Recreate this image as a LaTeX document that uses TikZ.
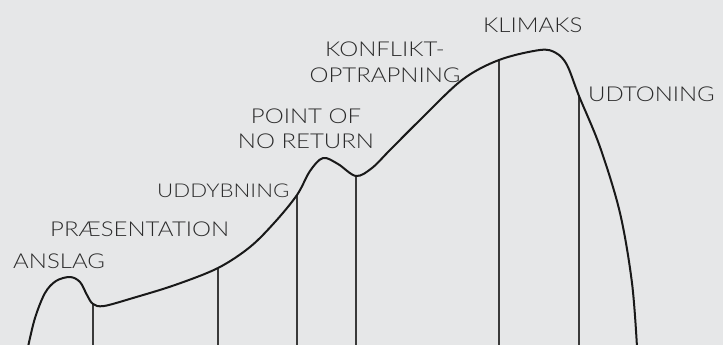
\documentclass[tikz,border=0pt]{standalone}
\usepackage{fontspec}
\IfFontExistsTF{Lato Light}{\setmainfont{Lato Light}[FakeStretch=1.17]}{\setmainfont{Lato}[FakeStretch=1.17]}
\definecolor{bgc}{HTML}{E6E7E8}
\definecolor{txt}{HTML}{2B2B2B}
\definecolor{vline}{HTML}{3A3A3A}
\begin{document}
\begin{tikzpicture}[x=1pt,y=-1pt,
  lbl/.style={font=\fontsize{20.5}{25}\selectfont, text=txt, inner sep=0pt},
  lblsmall/.style={font=\fontsize{19}{23}\selectfont, text=txt, inner sep=0pt},
  curve/.style={line width=2pt, color=black!90, line cap=round, line join=round},
  marker/.style={line width=1.1pt, color=vline}]
\fill[bgc] (0,0) rectangle (723,345);
\useasboundingbox (0,0) rectangle (723,345);

% points on the curve
\coordinate (c1) at (93,304);
\coordinate (c2) at (218,268);
\coordinate (c3) at (297,195);
\coordinate (c4) at (356,176);
\coordinate (c5) at (499,60);
\coordinate (c6) at (579,96);
% bottom ends
\coordinate (b1) at (93,345);
\coordinate (b2) at (218,345);
\coordinate (b3) at (297,345);
\coordinate (b4) at (356,345);
\coordinate (b5) at (499,345);
\coordinate (b6) at (579,345);

\draw[marker] (c1) -- (b1);
\draw[marker] (c2) -- (b2);
\draw[marker] (c3) -- (b3);
\draw[marker] (c4) -- (b4);
\draw[marker] (c5) -- (b5);
\draw[marker] (c6) -- (b6);

\draw[curve] plot[smooth, tension=0.55] coordinates {
 (28,347) (35,318) (45,293) (56,281) (70,277) (80,282) (87,295) (93,304)
 (104,306) (133,298) (175,285) (218,268) (250,247) (275,222) (297,195)
 (310,171) (323,158) (338,164) (356,176) (372,168) (390,150) (420,120)
 (462,80) (499,60) (540,50) (556,53) (567,65) (579,96) (600,147)
 (620,213) (632,283) (637,347)};

\node[lbl, anchor=base west] (anslag) at (13,268) {ANSLAG};
\node[lbl, anchor=base west] (praes) at (50,236) {PRÆSENTATION};
\node[lblsmall, anchor=base west] (udd) at (157,197) {UDDYBNING};
\node[lbl, anchor=base, align=center] (ponr) at (306,148) {POINT OF\\NO RETURN};
\node[lbl, anchor=base, align=center] (konf) at (385,82) {KONFLIKT-\\OPTRAPNING};
\node[lbl, anchor=base west] (klim) at (483,33) {KLIMAKS};
\node[lbl, anchor=base west] (udt) at (588,102) {UDTONING};
\end{tikzpicture}
\end{document}
